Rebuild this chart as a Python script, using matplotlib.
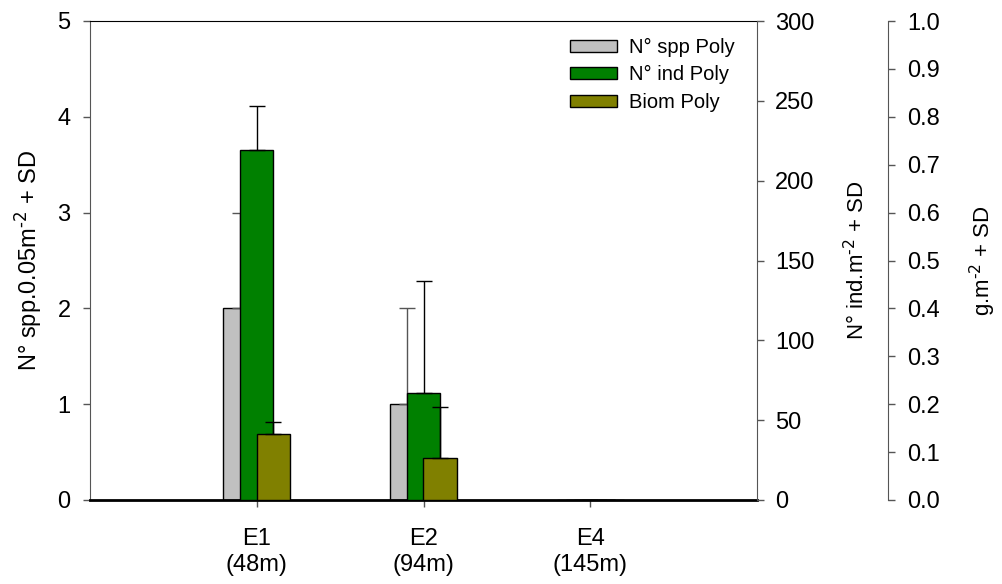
import numpy as np
from matplotlib import pyplot as plt
import matplotlib.patches as mpatches

plt.rcParams["font.family"] = ["Liberation Sans", "DejaVu Sans"]
plt.rcParams["mathtext.default"] = "regular"

stations = ["E1\n(48m)", "E2\n(94m)", "E4\n(145m)"]
spp_mean = [2.0, 1.0, 0.0]
spp_sd = [1.0, 1.0, 0.0]
ind_mean = [219.0, 67.0, 0.0]
ind_sd = [28.0, 70.0, 0.0]
biom_mean = [0.137, 0.087, 0.0]
biom_sd = [0.025, 0.108, 0.0]

spp_color = "#c0c0c0"
ind_color = "#008000"
biom_color = "#808000"

x = np.arange(1, len(stations) + 1)
width = 0.2

fig = plt.figure(figsize=(10.02, 5.84), dpi=100)
ax = fig.add_axes([90 / 1002, 1 - 500 / 584, 667 / 1002, 479 / 584])
ax2 = ax.twinx()
ax3 = ax.twinx()
ax3.spines["right"].set_position(("axes", (888 - 90) / 667))

ax.bar(x - 0.1, spp_mean, width, color=spp_color, edgecolor="black", lw=1)
ax.errorbar(x - 0.1, spp_mean, yerr=[np.zeros(3), spp_sd], fmt="none",
            ecolor="#555555", elinewidth=1, capsize=6, capthick=1)
ax2.bar(x, ind_mean, width, color=ind_color, edgecolor="black", lw=1)
ax2.errorbar(x, ind_mean, yerr=[np.zeros(3), ind_sd], fmt="none",
             ecolor="black", elinewidth=1, capsize=6, capthick=1)
ax3.bar(x + 0.1, biom_mean, width, color=biom_color, edgecolor="black", lw=1)
ax3.errorbar(x + 0.1, biom_mean, yerr=[np.zeros(3), biom_sd], fmt="none",
             ecolor="black", elinewidth=1, capsize=6, capthick=1)

ax.set_xlim(0, 4)
ax.set_ylim(0, 5)
ax2.set_ylim(0, 300)
ax3.set_ylim(0, 1.0)

ax.set_xticks(x)
ax.set_xticklabels(stations, fontsize=18, linespacing=1.25)
ax.set_yticks(np.arange(0, 6, 1))
ax2.set_yticks(np.arange(0, 301, 50))
ax3.set_yticks(np.arange(0, 1.01, 0.1))
ax3.set_yticklabels(["%.1f" % v for v in np.arange(0, 1.01, 0.1)])

for a in (ax, ax2, ax3):
    a.tick_params(labelsize=17, length=5, width=1, color="#555555", pad=9)
ax2.tick_params(pad=8)
ax.tick_params(axis="x", pad=15)

for a in (ax, ax2, ax3):
    for s in a.spines.values():
        s.set_visible(False)
ax.spines["left"].set_visible(True)
ax.spines["left"].set_color("#555555")
ax.spines["bottom"].set_visible(True)
ax.spines["bottom"].set_linewidth(2)
ax.spines["top"].set_visible(True)
ax2.spines["right"].set_visible(True)
ax2.spines["right"].set_color("#555555")
ax3.spines["right"].set_visible(True)
ax3.spines["right"].set_color("#555555")

ax.set_ylabel("N° spp.0.05m$^{\\text{-2}}$ + SD", fontsize=17, labelpad=10)
ax2.set_ylabel("N° ind.m$^{\\text{-2}}$ + SD", fontsize=16, labelpad=21)
ax3.set_ylabel("g.m$^{\\text{-2}}$ + SD", fontsize=16, labelpad=20)

spp_leg = mpatches.Patch(facecolor=spp_color, edgecolor="black", label="N° spp Poly")
ind_leg = mpatches.Patch(facecolor=ind_color, edgecolor="black", label="N° ind Poly")
biom_leg = mpatches.Patch(facecolor=biom_color, edgecolor="black", label="Biom Poly")
ax3.legend(handles=[spp_leg, ind_leg, biom_leg], loc="upper right",
           bbox_to_anchor=(0.985, 0.99), frameon=False, fontsize=14.5,
           handlelength=2.35, handleheight=0.55, labelspacing=0.42,
           handletextpad=0.6, borderaxespad=0.2)

plt.savefig("out.png", dpi=100)
